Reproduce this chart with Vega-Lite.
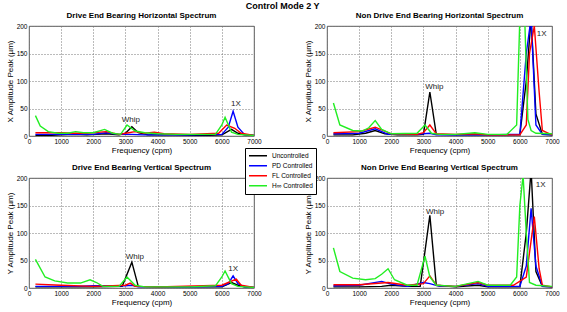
{
"$schema": "https://vega.github.io/schema/vega-lite/v6.json",
"background": "white",
"padding": {"left": 5, "top": 1, "right": 5, "bottom": 2},
"title": {"text": "Control Mode 2 Y", "fontSize": 9, "fontWeight": "bold", "anchor": "middle", "offset": 1, "color": "#000"},
"columns": 2,
"spacing": {"row": 42, "column": 73},
"bounds": "flush",
"datasets": {
"spec": [
{"p":"DEH","s":"Uncontrolled","f":200,"a":1},{"p":"DEH","s":"Uncontrolled","f":600,"a":1},{"p":"DEH","s":"Uncontrolled","f":1000,"a":2},{"p":"DEH","s":"Uncontrolled","f":1400,"a":3},{"p":"DEH","s":"Uncontrolled","f":1800,"a":2},{"p":"DEH","s":"Uncontrolled","f":2400,"a":4},{"p":"DEH","s":"Uncontrolled","f":2800,"a":2},{"p":"DEH","s":"Uncontrolled","f":3000,"a":5},{"p":"DEH","s":"Uncontrolled","f":3200,"a":17},{"p":"DEH","s":"Uncontrolled","f":3400,"a":6},{"p":"DEH","s":"Uncontrolled","f":3700,"a":2},{"p":"DEH","s":"Uncontrolled","f":4500,"a":2},{"p":"DEH","s":"Uncontrolled","f":5500,"a":1},{"p":"DEH","s":"Uncontrolled","f":6000,"a":2},{"p":"DEH","s":"Uncontrolled","f":6300,"a":12},{"p":"DEH","s":"Uncontrolled","f":6500,"a":5},{"p":"DEH","s":"Uncontrolled","f":6700,"a":2},{"p":"DEH","s":"Uncontrolled","f":7000,"a":1},
{"p":"DEH","s":"PD Controlled","f":200,"a":3},{"p":"DEH","s":"PD Controlled","f":800,"a":3},{"p":"DEH","s":"PD Controlled","f":1400,"a":3},{"p":"DEH","s":"PD Controlled","f":2000,"a":3},{"p":"DEH","s":"PD Controlled","f":2400,"a":6},{"p":"DEH","s":"PD Controlled","f":2800,"a":3},{"p":"DEH","s":"PD Controlled","f":3200,"a":3},{"p":"DEH","s":"PD Controlled","f":3600,"a":2},{"p":"DEH","s":"PD Controlled","f":5000,"a":2},{"p":"DEH","s":"PD Controlled","f":6000,"a":3},{"p":"DEH","s":"PD Controlled","f":6200,"a":16},{"p":"DEH","s":"PD Controlled","f":6350,"a":45},{"p":"DEH","s":"PD Controlled","f":6500,"a":16},{"p":"DEH","s":"PD Controlled","f":6700,"a":3},{"p":"DEH","s":"PD Controlled","f":7000,"a":1},
{"p":"DEH","s":"FL Controlled","f":200,"a":6},{"p":"DEH","s":"FL Controlled","f":1000,"a":6},{"p":"DEH","s":"FL Controlled","f":1400,"a":5},{"p":"DEH","s":"FL Controlled","f":1800,"a":5},{"p":"DEH","s":"FL Controlled","f":2400,"a":8},{"p":"DEH","s":"FL Controlled","f":2800,"a":3},{"p":"DEH","s":"FL Controlled","f":3100,"a":6},{"p":"DEH","s":"FL Controlled","f":3300,"a":8},{"p":"DEH","s":"FL Controlled","f":3600,"a":5},{"p":"DEH","s":"FL Controlled","f":3900,"a":7},{"p":"DEH","s":"FL Controlled","f":4200,"a":4},{"p":"DEH","s":"FL Controlled","f":5000,"a":3},{"p":"DEH","s":"FL Controlled","f":5900,"a":5},{"p":"DEH","s":"FL Controlled","f":6150,"a":20},{"p":"DEH","s":"FL Controlled","f":6400,"a":14},{"p":"DEH","s":"FL Controlled","f":6600,"a":5},{"p":"DEH","s":"FL Controlled","f":7000,"a":1},
{"p":"DEH","s":"H∞ Controlled","f":200,"a":37},{"p":"DEH","s":"H∞ Controlled","f":350,"a":18},{"p":"DEH","s":"H∞ Controlled","f":600,"a":8},{"p":"DEH","s":"H∞ Controlled","f":900,"a":5},{"p":"DEH","s":"H∞ Controlled","f":1200,"a":5},{"p":"DEH","s":"H∞ Controlled","f":1450,"a":8},{"p":"DEH","s":"H∞ Controlled","f":1700,"a":6},{"p":"DEH","s":"H∞ Controlled","f":2000,"a":6},{"p":"DEH","s":"H∞ Controlled","f":2350,"a":12},{"p":"DEH","s":"H∞ Controlled","f":2600,"a":5},{"p":"DEH","s":"H∞ Controlled","f":2850,"a":3},{"p":"DEH","s":"H∞ Controlled","f":3050,"a":20},{"p":"DEH","s":"H∞ Controlled","f":3300,"a":9},{"p":"DEH","s":"H∞ Controlled","f":3600,"a":6},{"p":"DEH","s":"H∞ Controlled","f":4000,"a":4},{"p":"DEH","s":"H∞ Controlled","f":4600,"a":3},{"p":"DEH","s":"H∞ Controlled","f":5000,"a":3},{"p":"DEH","s":"H∞ Controlled","f":5800,"a":3},{"p":"DEH","s":"H∞ Controlled","f":6000,"a":20},{"p":"DEH","s":"H∞ Controlled","f":6100,"a":34},{"p":"DEH","s":"H∞ Controlled","f":6300,"a":7},{"p":"DEH","s":"H∞ Controlled","f":6500,"a":3},{"p":"DEH","s":"H∞ Controlled","f":7000,"a":1},

{"p":"NDEH","s":"Uncontrolled","f":200,"a":2},{"p":"NDEH","s":"Uncontrolled","f":800,"a":2},{"p":"NDEH","s":"Uncontrolled","f":1200,"a":5},{"p":"NDEH","s":"Uncontrolled","f":1500,"a":10},{"p":"NDEH","s":"Uncontrolled","f":1800,"a":4},{"p":"NDEH","s":"Uncontrolled","f":2200,"a":2},{"p":"NDEH","s":"Uncontrolled","f":2800,"a":2},{"p":"NDEH","s":"Uncontrolled","f":3000,"a":3},{"p":"NDEH","s":"Uncontrolled","f":3200,"a":80},{"p":"NDEH","s":"Uncontrolled","f":3400,"a":3},{"p":"NDEH","s":"Uncontrolled","f":4000,"a":2},{"p":"NDEH","s":"Uncontrolled","f":5000,"a":2},{"p":"NDEH","s":"Uncontrolled","f":6000,"a":2},{"p":"NDEH","s":"Uncontrolled","f":6200,"a":100},{"p":"NDEH","s":"Uncontrolled","f":6350,"a":215},{"p":"NDEH","s":"Uncontrolled","f":6500,"a":40},{"p":"NDEH","s":"Uncontrolled","f":6700,"a":3},{"p":"NDEH","s":"Uncontrolled","f":7000,"a":2},
{"p":"NDEH","s":"PD Controlled","f":200,"a":4},{"p":"NDEH","s":"PD Controlled","f":1000,"a":5},{"p":"NDEH","s":"PD Controlled","f":1500,"a":13},{"p":"NDEH","s":"PD Controlled","f":1900,"a":3},{"p":"NDEH","s":"PD Controlled","f":2800,"a":3},{"p":"NDEH","s":"PD Controlled","f":3000,"a":4},{"p":"NDEH","s":"PD Controlled","f":3200,"a":5},{"p":"NDEH","s":"PD Controlled","f":3400,"a":2},{"p":"NDEH","s":"PD Controlled","f":5000,"a":2},{"p":"NDEH","s":"PD Controlled","f":6000,"a":3},{"p":"NDEH","s":"PD Controlled","f":6200,"a":150},{"p":"NDEH","s":"PD Controlled","f":6350,"a":215},{"p":"NDEH","s":"PD Controlled","f":6500,"a":20},{"p":"NDEH","s":"PD Controlled","f":6700,"a":3},{"p":"NDEH","s":"PD Controlled","f":7000,"a":2},
{"p":"NDEH","s":"FL Controlled","f":200,"a":6},{"p":"NDEH","s":"FL Controlled","f":1000,"a":8},{"p":"NDEH","s":"FL Controlled","f":1500,"a":16},{"p":"NDEH","s":"FL Controlled","f":2000,"a":4},{"p":"NDEH","s":"FL Controlled","f":2800,"a":3},{"p":"NDEH","s":"FL Controlled","f":3000,"a":6},{"p":"NDEH","s":"FL Controlled","f":3200,"a":20},{"p":"NDEH","s":"FL Controlled","f":3400,"a":4},{"p":"NDEH","s":"FL Controlled","f":4000,"a":3},{"p":"NDEH","s":"FL Controlled","f":4600,"a":4},{"p":"NDEH","s":"FL Controlled","f":5000,"a":2},{"p":"NDEH","s":"FL Controlled","f":6000,"a":2},{"p":"NDEH","s":"FL Controlled","f":6200,"a":20},{"p":"NDEH","s":"FL Controlled","f":6300,"a":150},{"p":"NDEH","s":"FL Controlled","f":6450,"a":200},{"p":"NDEH","s":"FL Controlled","f":6600,"a":80},{"p":"NDEH","s":"FL Controlled","f":6700,"a":10},{"p":"NDEH","s":"FL Controlled","f":7000,"a":2},
{"p":"NDEH","s":"H∞ Controlled","f":200,"a":60},{"p":"NDEH","s":"H∞ Controlled","f":400,"a":20},{"p":"NDEH","s":"H∞ Controlled","f":800,"a":10},{"p":"NDEH","s":"H∞ Controlled","f":1100,"a":9},{"p":"NDEH","s":"H∞ Controlled","f":1300,"a":15},{"p":"NDEH","s":"H∞ Controlled","f":1500,"a":28},{"p":"NDEH","s":"H∞ Controlled","f":1700,"a":12},{"p":"NDEH","s":"H∞ Controlled","f":2000,"a":4},{"p":"NDEH","s":"H∞ Controlled","f":2800,"a":5},{"p":"NDEH","s":"H∞ Controlled","f":3050,"a":20},{"p":"NDEH","s":"H∞ Controlled","f":3250,"a":5},{"p":"NDEH","s":"H∞ Controlled","f":3500,"a":3},{"p":"NDEH","s":"H∞ Controlled","f":4000,"a":3},{"p":"NDEH","s":"H∞ Controlled","f":4600,"a":6},{"p":"NDEH","s":"H∞ Controlled","f":5000,"a":3},{"p":"NDEH","s":"H∞ Controlled","f":5600,"a":3},{"p":"NDEH","s":"H∞ Controlled","f":5900,"a":20},{"p":"NDEH","s":"H∞ Controlled","f":6000,"a":215},{"p":"NDEH","s":"H∞ Controlled","f":6150,"a":215},{"p":"NDEH","s":"H∞ Controlled","f":6250,"a":30},{"p":"NDEH","s":"H∞ Controlled","f":6350,"a":10},{"p":"NDEH","s":"H∞ Controlled","f":6500,"a":5},{"p":"NDEH","s":"H∞ Controlled","f":7000,"a":4},

{"p":"DEV","s":"Uncontrolled","f":200,"a":2},{"p":"DEV","s":"Uncontrolled","f":1000,"a":2},{"p":"DEV","s":"Uncontrolled","f":2000,"a":2},{"p":"DEV","s":"Uncontrolled","f":2900,"a":3},{"p":"DEV","s":"Uncontrolled","f":3200,"a":47},{"p":"DEV","s":"Uncontrolled","f":3400,"a":3},{"p":"DEV","s":"Uncontrolled","f":4000,"a":2},{"p":"DEV","s":"Uncontrolled","f":5000,"a":2},{"p":"DEV","s":"Uncontrolled","f":6000,"a":2},{"p":"DEV","s":"Uncontrolled","f":6300,"a":10},{"p":"DEV","s":"Uncontrolled","f":6500,"a":5},{"p":"DEV","s":"Uncontrolled","f":6700,"a":2},{"p":"DEV","s":"Uncontrolled","f":7000,"a":1},
{"p":"DEV","s":"PD Controlled","f":200,"a":3},{"p":"DEV","s":"PD Controlled","f":1500,"a":3},{"p":"DEV","s":"PD Controlled","f":2000,"a":4},{"p":"DEV","s":"PD Controlled","f":3000,"a":4},{"p":"DEV","s":"PD Controlled","f":3200,"a":5},{"p":"DEV","s":"PD Controlled","f":3400,"a":2},{"p":"DEV","s":"PD Controlled","f":5000,"a":2},{"p":"DEV","s":"PD Controlled","f":6000,"a":3},{"p":"DEV","s":"PD Controlled","f":6200,"a":8},{"p":"DEV","s":"PD Controlled","f":6350,"a":22},{"p":"DEV","s":"PD Controlled","f":6500,"a":8},{"p":"DEV","s":"PD Controlled","f":6700,"a":2},{"p":"DEV","s":"PD Controlled","f":7000,"a":1},
{"p":"DEV","s":"FL Controlled","f":200,"a":7},{"p":"DEV","s":"FL Controlled","f":1000,"a":5},{"p":"DEV","s":"FL Controlled","f":2000,"a":3},{"p":"DEV","s":"FL Controlled","f":3000,"a":5},{"p":"DEV","s":"FL Controlled","f":3150,"a":9},{"p":"DEV","s":"FL Controlled","f":3300,"a":3},{"p":"DEV","s":"FL Controlled","f":4000,"a":2},{"p":"DEV","s":"FL Controlled","f":6000,"a":5},{"p":"DEV","s":"FL Controlled","f":6200,"a":10},{"p":"DEV","s":"FL Controlled","f":6450,"a":16},{"p":"DEV","s":"FL Controlled","f":6600,"a":5},{"p":"DEV","s":"FL Controlled","f":7000,"a":1},
{"p":"DEV","s":"H∞ Controlled","f":200,"a":52},{"p":"DEV","s":"H∞ Controlled","f":500,"a":20},{"p":"DEV","s":"H∞ Controlled","f":800,"a":13},{"p":"DEV","s":"H∞ Controlled","f":1200,"a":9},{"p":"DEV","s":"H∞ Controlled","f":1600,"a":9},{"p":"DEV","s":"H∞ Controlled","f":1900,"a":15},{"p":"DEV","s":"H∞ Controlled","f":2100,"a":10},{"p":"DEV","s":"H∞ Controlled","f":2300,"a":3},{"p":"DEV","s":"H∞ Controlled","f":2800,"a":3},{"p":"DEV","s":"H∞ Controlled","f":3050,"a":20},{"p":"DEV","s":"H∞ Controlled","f":3300,"a":5},{"p":"DEV","s":"H∞ Controlled","f":3600,"a":2},{"p":"DEV","s":"H∞ Controlled","f":5000,"a":2},{"p":"DEV","s":"H∞ Controlled","f":5800,"a":4},{"p":"DEV","s":"H∞ Controlled","f":6000,"a":20},{"p":"DEV","s":"H∞ Controlled","f":6100,"a":31},{"p":"DEV","s":"H∞ Controlled","f":6300,"a":8},{"p":"DEV","s":"H∞ Controlled","f":6500,"a":3},{"p":"DEV","s":"H∞ Controlled","f":7000,"a":1},

{"p":"NDEV","s":"Uncontrolled","f":200,"a":2},{"p":"NDEV","s":"Uncontrolled","f":1000,"a":2},{"p":"NDEV","s":"Uncontrolled","f":1700,"a":3},{"p":"NDEV","s":"Uncontrolled","f":2000,"a":5},{"p":"NDEV","s":"Uncontrolled","f":2500,"a":3},{"p":"NDEV","s":"Uncontrolled","f":2900,"a":3},{"p":"NDEV","s":"Uncontrolled","f":3200,"a":132},{"p":"NDEV","s":"Uncontrolled","f":3400,"a":5},{"p":"NDEV","s":"Uncontrolled","f":4000,"a":2},{"p":"NDEV","s":"Uncontrolled","f":4700,"a":5},{"p":"NDEV","s":"Uncontrolled","f":5000,"a":2},{"p":"NDEV","s":"Uncontrolled","f":6000,"a":2},{"p":"NDEV","s":"Uncontrolled","f":6200,"a":100},{"p":"NDEV","s":"Uncontrolled","f":6350,"a":215},{"p":"NDEV","s":"Uncontrolled","f":6500,"a":30},{"p":"NDEV","s":"Uncontrolled","f":6700,"a":3},{"p":"NDEV","s":"Uncontrolled","f":7000,"a":2},
{"p":"NDEV","s":"PD Controlled","f":200,"a":4},{"p":"NDEV","s":"PD Controlled","f":1000,"a":5},{"p":"NDEV","s":"PD Controlled","f":1700,"a":12},{"p":"NDEV","s":"PD Controlled","f":2000,"a":7},{"p":"NDEV","s":"PD Controlled","f":2500,"a":3},{"p":"NDEV","s":"PD Controlled","f":3000,"a":10},{"p":"NDEV","s":"PD Controlled","f":3200,"a":8},{"p":"NDEV","s":"PD Controlled","f":3500,"a":3},{"p":"NDEV","s":"PD Controlled","f":4000,"a":3},{"p":"NDEV","s":"PD Controlled","f":4700,"a":8},{"p":"NDEV","s":"PD Controlled","f":5000,"a":3},{"p":"NDEV","s":"PD Controlled","f":6000,"a":3},{"p":"NDEV","s":"PD Controlled","f":6200,"a":40},{"p":"NDEV","s":"PD Controlled","f":6350,"a":145},{"p":"NDEV","s":"PD Controlled","f":6500,"a":40},{"p":"NDEV","s":"PD Controlled","f":6700,"a":3},{"p":"NDEV","s":"PD Controlled","f":7000,"a":2},
{"p":"NDEV","s":"FL Controlled","f":200,"a":6},{"p":"NDEV","s":"FL Controlled","f":1000,"a":6},{"p":"NDEV","s":"FL Controlled","f":1900,"a":10},{"p":"NDEV","s":"FL Controlled","f":2500,"a":5},{"p":"NDEV","s":"FL Controlled","f":3000,"a":8},{"p":"NDEV","s":"FL Controlled","f":3200,"a":22},{"p":"NDEV","s":"FL Controlled","f":3400,"a":5},{"p":"NDEV","s":"FL Controlled","f":4000,"a":3},{"p":"NDEV","s":"FL Controlled","f":4700,"a":10},{"p":"NDEV","s":"FL Controlled","f":5000,"a":5},{"p":"NDEV","s":"FL Controlled","f":5800,"a":5},{"p":"NDEV","s":"FL Controlled","f":6200,"a":20},{"p":"NDEV","s":"FL Controlled","f":6450,"a":130},{"p":"NDEV","s":"FL Controlled","f":6600,"a":35},{"p":"NDEV","s":"FL Controlled","f":6700,"a":5},{"p":"NDEV","s":"FL Controlled","f":7000,"a":2},
{"p":"NDEV","s":"H∞ Controlled","f":200,"a":73},{"p":"NDEV","s":"H∞ Controlled","f":400,"a":30},{"p":"NDEV","s":"H∞ Controlled","f":800,"a":18},{"p":"NDEV","s":"H∞ Controlled","f":1200,"a":15},{"p":"NDEV","s":"H∞ Controlled","f":1500,"a":17},{"p":"NDEV","s":"H∞ Controlled","f":1700,"a":25},{"p":"NDEV","s":"H∞ Controlled","f":1900,"a":35},{"p":"NDEV","s":"H∞ Controlled","f":2100,"a":15},{"p":"NDEV","s":"H∞ Controlled","f":2500,"a":5},{"p":"NDEV","s":"H∞ Controlled","f":2800,"a":5},{"p":"NDEV","s":"H∞ Controlled","f":3050,"a":58},{"p":"NDEV","s":"H∞ Controlled","f":3200,"a":20},{"p":"NDEV","s":"H∞ Controlled","f":3400,"a":5},{"p":"NDEV","s":"H∞ Controlled","f":4000,"a":3},{"p":"NDEV","s":"H∞ Controlled","f":4700,"a":12},{"p":"NDEV","s":"H∞ Controlled","f":5000,"a":5},{"p":"NDEV","s":"H∞ Controlled","f":5700,"a":5},{"p":"NDEV","s":"H∞ Controlled","f":5900,"a":20},{"p":"NDEV","s":"H∞ Controlled","f":6000,"a":150},{"p":"NDEV","s":"H∞ Controlled","f":6100,"a":205},{"p":"NDEV","s":"H∞ Controlled","f":6200,"a":100},{"p":"NDEV","s":"H∞ Controlled","f":6300,"a":10},{"p":"NDEV","s":"H∞ Controlled","f":6500,"a":5},{"p":"NDEV","s":"H∞ Controlled","f":7000,"a":3}
],
"labels": [
{"p":"DEH","t":"Whip","f":3170,"a":29},{"p":"DEH","t":"1X","f":6440,"a":58},
{"p":"NDEH","t":"Whip","f":3340,"a":89},{"p":"NDEH","t":"1X","f":6680,"a":185},
{"p":"DEV","t":"Whip","f":3290,"a":57},{"p":"DEV","t":"1X","f":6350,"a":34},
{"p":"NDEV","t":"Whip","f":3360,"a":139},{"p":"NDEV","t":"1X","f":6650,"a":188}
]
},
"concat": [
{"width": 225, "height": 110, "title": "Drive End Bearing Horizontal Spectrum",
 "layer": [
  {"data": {"name": "spec"}, "transform": [{"filter": "datum.p == 'DEH'"}], "mark": {"type": "line", "clip": true, "strokeWidth": 1.4},
   "encoding": {
    "x": {"field": "f", "type": "quantitative", "scale": {"domain": [0, 7000]}, "axis": {"title": "Frequency (cpm)", "values": [0,1000,2000,3000,4000,5000,6000,7000], "tickCount": 8}},
    "y": {"field": "a", "type": "quantitative", "scale": {"domain": [0, 200]}, "axis": {"title": "X Amplitude Peak (µm)", "values": [0,50,100,150,200], "tickCount": 5}},
    "color": {"field": "s", "type": "nominal", "scale": {"domain": ["Uncontrolled","PD Controlled","FL Controlled","H∞ Controlled"], "range": ["#000000","#0000ff","#ff0000","#22ee22"]}, "legend": {"title": null, "orient": "none", "legendX": 216, "legendY": 122}}}},
  {"data": {"name": "labels"}, "transform": [{"filter": "datum.p == 'DEH'"}], "mark": {"type": "text", "fontSize": 8, "color": "#222"},
   "encoding": {"x": {"field": "f", "type": "quantitative"}, "y": {"field": "a", "type": "quantitative"}, "text": {"field": "t"}}}
 ]},
{"width": 225, "height": 110, "title": "Non Drive End Bearing Horizontal Spectrum",
 "layer": [
  {"data": {"name": "spec"}, "transform": [{"filter": "datum.p == 'NDEH'"}], "mark": {"type": "line", "clip": true, "strokeWidth": 1.4},
   "encoding": {
    "x": {"field": "f", "type": "quantitative", "scale": {"domain": [0, 7000]}, "axis": {"title": "Frequency (cpm)", "values": [0,1000,2000,3000,4000,5000,6000,7000], "tickCount": 8}},
    "y": {"field": "a", "type": "quantitative", "scale": {"domain": [0, 200]}, "axis": {"title": "X Amplitude Peak (µm)", "values": [0,50,100,150,200], "tickCount": 5}},
    "color": {"field": "s", "type": "nominal", "scale": {"domain": ["Uncontrolled","PD Controlled","FL Controlled","H∞ Controlled"], "range": ["#000000","#0000ff","#ff0000","#22ee22"]}, "legend": {"title": null, "orient": "none", "legendX": 216, "legendY": 122}}}},
  {"data": {"name": "labels"}, "transform": [{"filter": "datum.p == 'NDEH'"}], "mark": {"type": "text", "fontSize": 8, "color": "#222"},
   "encoding": {"x": {"field": "f", "type": "quantitative"}, "y": {"field": "a", "type": "quantitative"}, "text": {"field": "t"}}}
 ]},
{"width": 225, "height": 110, "title": "Drive End Bearing Vertical Spectrum",
 "layer": [
  {"data": {"name": "spec"}, "transform": [{"filter": "datum.p == 'DEV'"}], "mark": {"type": "line", "clip": true, "strokeWidth": 1.4},
   "encoding": {
    "x": {"field": "f", "type": "quantitative", "scale": {"domain": [0, 7000]}, "axis": {"title": "Frequency (cpm)", "values": [0,1000,2000,3000,4000,5000,6000,7000], "tickCount": 8}},
    "y": {"field": "a", "type": "quantitative", "scale": {"domain": [0, 200]}, "axis": {"title": "Y Amplitude Peak (µm)", "values": [0,50,100,150,200], "tickCount": 5}},
    "color": {"field": "s", "type": "nominal", "scale": {"domain": ["Uncontrolled","PD Controlled","FL Controlled","H∞ Controlled"], "range": ["#000000","#0000ff","#ff0000","#22ee22"]}, "legend": {"title": null, "orient": "none", "legendX": 216, "legendY": 122}}}},
  {"data": {"name": "labels"}, "transform": [{"filter": "datum.p == 'DEV'"}], "mark": {"type": "text", "fontSize": 8, "color": "#222"},
   "encoding": {"x": {"field": "f", "type": "quantitative"}, "y": {"field": "a", "type": "quantitative"}, "text": {"field": "t"}}}
 ]},
{"width": 225, "height": 110, "title": "Non Drive End Bearing Vertical Spectrum",
 "layer": [
  {"data": {"name": "spec"}, "transform": [{"filter": "datum.p == 'NDEV'"}], "mark": {"type": "line", "clip": true, "strokeWidth": 1.4},
   "encoding": {
    "x": {"field": "f", "type": "quantitative", "scale": {"domain": [0, 7000]}, "axis": {"title": "Frequency (cpm)", "values": [0,1000,2000,3000,4000,5000,6000,7000], "tickCount": 8}},
    "y": {"field": "a", "type": "quantitative", "scale": {"domain": [0, 200]}, "axis": {"title": "Y Amplitude Peak (µm)", "values": [0,50,100,150,200], "tickCount": 5}},
    "color": {"field": "s", "type": "nominal", "scale": {"domain": ["Uncontrolled","PD Controlled","FL Controlled","H∞ Controlled"], "range": ["#000000","#0000ff","#ff0000","#22ee22"]}, "legend": {"title": null, "orient": "none", "legendX": 216, "legendY": 122}}}},
  {"data": {"name": "labels"}, "transform": [{"filter": "datum.p == 'NDEV'"}], "mark": {"type": "text", "fontSize": 8, "color": "#222"},
   "encoding": {"x": {"field": "f", "type": "quantitative"}, "y": {"field": "a", "type": "quantitative"}, "text": {"field": "t"}}}
 ]}
],
"resolve": {"scale": {"color": "shared"}},
"config": {
 "font": "Liberation Sans",
 "view": {"stroke": "#333333", "strokeWidth": 0.8},
 "axis": {"labelFontSize": 6.5, "titleFontSize": 8, "titleFontWeight": "normal", "labelColor": "#000", "titleColor": "#000", "domain": false, "ticks": false, "grid": true, "gridDash": [1, 2], "gridColor": "#777", "gridOpacity": 1, "labelPadding": 2, "titlePadding": 2, "labelFlush": false, "labelOverlap": false, "format": "d"},
 "title": {"fontSize": 8, "fontWeight": "bold", "offset": 3, "color": "#000"},
 "legend": {"symbolType": "stroke", "symbolSize": 324, "symbolStrokeWidth": 1.5, "clipHeight": 9.5, "rowPadding": 0, "labelFontSize": 6.5, "labelColor": "#000", "fillColor": "white", "strokeColor": "#000", "padding": 3, "labelOffset": 4}
}
}
